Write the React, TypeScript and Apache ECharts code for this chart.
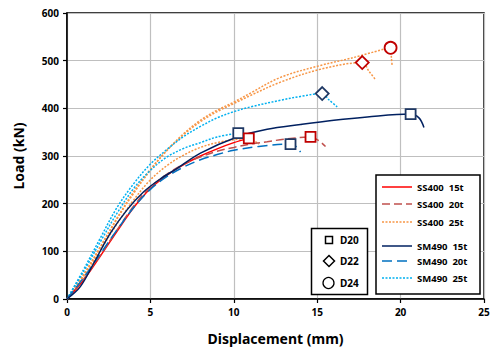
import React, { useEffect, useRef } from "react";
import * as echarts from "echarts";

// ---- data ----
const xTicks = [0, 5, 10, 15, 20, 25];
const yTicks = [0, 100, 200, 300, 400, 500, 600];

const ss400_15t_x = [0, 1, 2, 3, 4, 5, 6, 7, 8, 9, 10, 10.9];
const ss400_15t_y = [0, 40, 90, 142, 192, 232, 260, 282, 300, 315, 328, 337];

const ss400_20t_x = [0, 1, 2, 3, 4, 5, 6, 7, 8, 9, 10, 11, 12, 13, 14.6, 15.1, 15.5];
const ss400_20t_y = [0, 42, 92, 145, 195, 235, 262, 283, 298, 310, 318, 325, 330, 335, 340, 332, 320];

const ss400_25t_d20_x = [0, 1, 2, 3, 4, 5, 6, 7, 8, 9, 10, 10.9, 11.2, 11.5];
const ss400_25t_d20_y = [0, 48, 102, 158, 208, 250, 280, 302, 318, 328, 334, 337, 332, 325];
const ss400_25t_d22_x = [0, 1, 2, 3, 4, 5, 6, 7, 8, 9, 10, 11, 12.8, 15.2, 17.7, 18.1, 18.5];
const ss400_25t_d22_y = [0, 52, 110, 170, 225, 272, 312, 345, 372, 393, 410, 427, 455, 482, 496, 478, 460];
const ss400_25t_d24_x = [0, 1, 2, 3, 4, 5, 6, 7, 8, 9, 10, 11, 12.8, 15.2, 17, 19.4, 19.45, 19.5];
const ss400_25t_d24_y = [0, 50, 108, 168, 222, 270, 312, 347, 375, 396, 413, 432, 465, 490, 505, 527, 505, 488];

const sm490_15t_x = [0, 0.8, 1.6, 2.6, 3.6, 4.6, 5.6, 6.6, 8, 10.2, 12, 14, 16, 18, 20.6, 21.1, 21.4];
const sm490_15t_y = [0, 26, 75, 138, 187, 225, 252, 274, 306, 340, 356, 366, 375, 382, 388, 380, 360];

const sm490_20t_x = [0, 1, 2, 3, 4, 5, 6, 7, 8, 9, 10, 11.5, 13.4, 13.8, 14.0];
const sm490_20t_y = [0, 45, 95, 145, 192, 230, 257, 277, 292, 303, 312, 320, 325, 318, 308];

const sm490_25t_d20_x = [0, 1, 2, 3, 4, 5, 6, 7, 8, 9, 10.27];
const sm490_25t_d20_y = [0, 58, 120, 180, 232, 270, 298, 316, 328, 340, 348];
const sm490_25t_d22_x = [0, 1, 2, 3, 4, 5, 6, 7, 8, 9, 10, 11, 12.8, 14, 15.3, 15.7, 16.2];
const sm490_25t_d22_y = [0, 62, 128, 192, 242, 283, 314, 341, 362, 380, 393, 403, 417, 425, 431, 418, 403];

// markers (peak points)
const navySquares = [[10.27, 348], [13.4, 325], [20.6, 388]];
const redSquares = [[10.9, 337], [14.6, 340]];
const navyDiamonds = [[15.3, 431]];
const redDiamonds = [[17.7, 496]];
const redCircles = [[19.4, 527]];

const legendNames = ["SS400  15t", "SS400  20t", "SS400  25t", "SM490  15t", "SM490  20t", "SM490  25t"];
const markerNames = ["D20", "D22", "D24"];

const C = {
  red: "#FF0000",
  brown: "#C0504D",
  orange: "#F79646",
  navy: "#002060",
  blue: "#0070C0",
  sky: "#00B0F0",
  mRed: "#C00000",
  mNavy: "#1F3864",
};

const zip = (xs: number[], ys: number[]) => xs.map((x, i) => [x, ys[i]]);

function lineSeries(name: string, xs: number[], ys: number[], color: string, type: any, width = 1.5) {
  return {
    type: "line",
    name,
    data: zip(xs, ys),
    smooth: 0.35,
    showSymbol: false,
    symbol: "none",
    lineStyle: { color, width, type },
    z: 3,
  };
}

function markerSeries(data: number[][], symbol: string, color: string, size: number) {
  return {
    type: "scatter",
    data,
    symbol,
    symbolSize: size,
    itemStyle: { color: "#fff", borderColor: color, borderWidth: 1.8, opacity: 1 },
    z: 5,
  };
}

export default function App() {
  const ref = useRef<HTMLDivElement>(null);
  useEffect(() => {
    if (!ref.current) return;
    const chart = echarts.init(ref.current, null, { renderer: "svg" });
    const font = "'Noto Sans', 'DejaVu Sans', sans-serif";
    const legendStyles: any[] = [
      { color: C.red, dash: null },
      { color: C.brown, dash: [8, 4] },
      { color: C.orange, dash: [2, 1.5] },
      { color: C.navy, dash: null },
      { color: C.blue, dash: [10, 5] },
      { color: C.sky, dash: [2, 1.5] },
    ];
    const legendY = [187, 204, 222, 246, 261, 278];
    const items: any[] = [
      { type: "rect", z: 10, shape: { x: 376, y: 175, width: 104, height: 119 }, style: { fill: "#fff", stroke: "#000", lineWidth: 1.5 } },
      { type: "rect", z: 10, shape: { x: 311.5, y: 228.5, width: 56, height: 66 }, style: { fill: "#fff", stroke: "#000", lineWidth: 1.5 } },
    ];
    legendNames.forEach((n, i) => {
      const st: any = { stroke: legendStyles[i].color, lineWidth: 1.5 };
      if (legendStyles[i].dash) st.lineDash = legendStyles[i].dash;
      items.push({ type: "line", z: 11, shape: { x1: 382, y1: legendY[i], x2: 412, y2: legendY[i] }, style: st });
      items.push({
        type: "text",
        z: 11,
        x: 417,
        y: legendY[i],
        style: { text: n, fill: "#000", font: `bold 9.5px ${font}`, verticalAlign: "middle" },
      });
    });
    const mY = [240, 261, 283];
    items.push(
      { type: "rect", z: 11, shape: { x: 325.5, y: mY[0] - 3.5, width: 7, height: 7 }, style: { fill: "#fff", stroke: "#000", lineWidth: 1.5 } },
      { type: "polygon", z: 11, shape: { points: [[329, mY[1] - 5.5], [334.5, mY[1]], [329, mY[1] + 5.5], [323.5, mY[1]]] }, style: { fill: "#fff", stroke: "#000", lineWidth: 1.5 } },
      { type: "circle", z: 11, shape: { cx: 328.5, cy: mY[2], r: 5.5 }, style: { fill: "#fff", stroke: "#000", lineWidth: 1.3 } }
    );
    markerNames.forEach((n, i) => {
      items.push({
        type: "text",
        z: 11,
        x: 340,
        y: mY[i],
        style: { text: n, fill: "#000", font: `bold 10px ${font}`, verticalAlign: "middle" },
      });
    });

    chart.setOption({
      animation: false,
      backgroundColor: "#fff",
      grid: { left: 67, right: 16, top: 13, bottom: 60, show: true, borderColor: "#000", borderWidth: 1.5, backgroundColor: "transparent" },
      xAxis: {
        type: "value",
        min: xTicks[0],
        max: xTicks[xTicks.length - 1],
        interval: 5,
        name: "Displacement (mm)",
        nameLocation: "middle",
        nameGap: 32,
        nameTextStyle: { fontFamily: font, fontWeight: "bold", fontSize: 14, color: "#000" },
        axisLine: { show: true, lineStyle: { color: "#000", width: 1.5 } },
        axisTick: { show: true, inside: false, length: 4, lineStyle: { color: "#000", width: 1.2 } },
        axisLabel: { fontFamily: font, fontWeight: "bold", fontSize: 10, color: "#000", margin: 8 },
        splitLine: { show: true, lineStyle: { color: "#BFBFBF", width: 1.2 } },
      },
      yAxis: {
        type: "value",
        min: yTicks[0],
        max: yTicks[yTicks.length - 1],
        interval: 100,
        name: "Load (kN)",
        nameLocation: "middle",
        nameGap: 42,
        nameTextStyle: { fontFamily: font, fontWeight: "bold", fontSize: 14, color: "#000" },
        axisLine: { show: true, lineStyle: { color: "#000", width: 1.5 } },
        axisTick: { show: true, inside: false, length: 4, lineStyle: { color: "#000", width: 1.2 } },
        axisLabel: { fontFamily: font, fontWeight: "bold", fontSize: 10, color: "#000", margin: 8 },
        splitLine: { show: true, lineStyle: { color: "#BFBFBF", width: 1.2 } },
      },
      series: [
        lineSeries(legendNames[2], ss400_25t_d20_x, ss400_25t_d20_y, C.orange, [2, 1.5]),
        lineSeries(legendNames[2], ss400_25t_d22_x, ss400_25t_d22_y, C.orange, [2, 1.5]),
        lineSeries(legendNames[2], ss400_25t_d24_x, ss400_25t_d24_y, C.orange, [2, 1.5]),
        lineSeries(legendNames[5], sm490_25t_d20_x, sm490_25t_d20_y, C.sky, [2, 1.5]),
        lineSeries(legendNames[5], sm490_25t_d22_x, sm490_25t_d22_y, C.sky, [2, 1.5]),
        lineSeries(legendNames[0], ss400_15t_x, ss400_15t_y, C.red, "solid"),
        lineSeries(legendNames[1], ss400_20t_x, ss400_20t_y, C.brown, [8, 4]),
        lineSeries(legendNames[4], sm490_20t_x, sm490_20t_y, C.blue, [10, 5]),
        lineSeries(legendNames[3], sm490_15t_x, sm490_15t_y, C.navy, "solid"),
        markerSeries(navySquares, "rect", C.mNavy, 10),
        markerSeries(redSquares, "rect", C.mRed, 10),
        markerSeries(navyDiamonds, "diamond", C.mNavy, 13),
        markerSeries(redDiamonds, "diamond", C.mRed, 13),
        markerSeries(redCircles, "circle", C.mRed, 12),
      ],
      graphic: items,
    });
    return () => chart.dispose();
  }, []);
  return <div ref={ref} style={{ width: 500, height: 359, position: "absolute", left: 0, top: 0 }} />;
}
